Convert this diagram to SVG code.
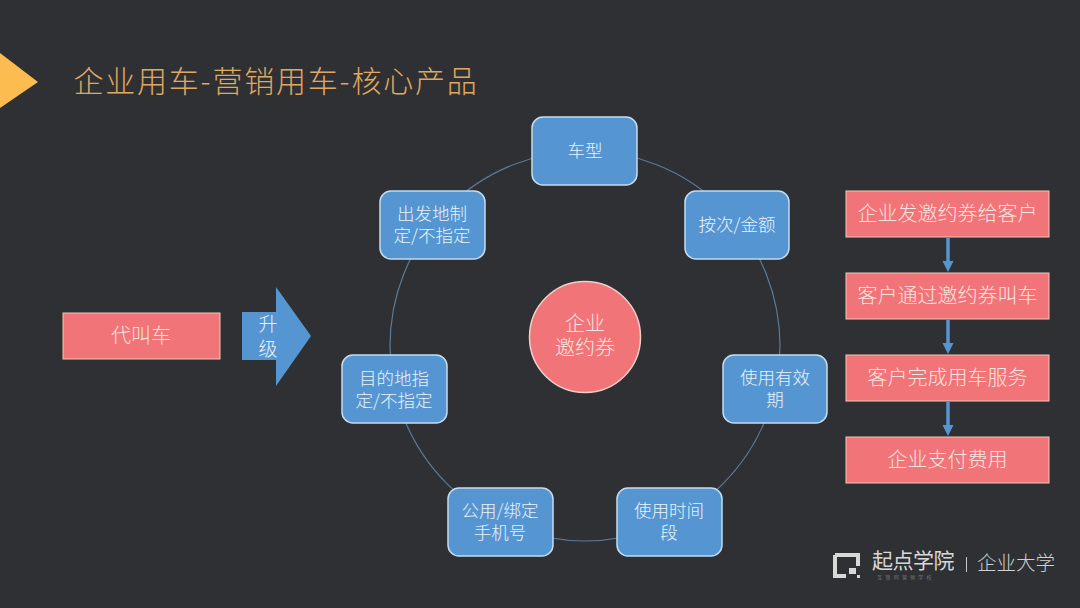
<svg xmlns="http://www.w3.org/2000/svg" width="1080" height="608" viewBox="0 0 1080 608">
<style>
text{font-family:"Noto Sans CJK SC","Noto Sans",sans-serif;text-anchor:middle;font-weight:300}
.b rect{fill:#5596d2;stroke:#c4dcf0;stroke-width:1.5}
.b text{fill:#eaf3fa;font-size:17.500px}
.r rect{fill:#f07478;stroke:#f0c8bc;stroke-width:1}
.r text{fill:#fbe4e0;font-size:20px}
.c line{stroke:#5596d2;stroke-width:3.5}
.c path{fill:#5596d2}
</style>
<rect width="1080" height="608" fill="#2f3033"/>
<polygon id="title-mark" points="0,53 38,82 0,108" fill="#fcbc50"/>
<text id="title" x="276" y="92" style="font-size:30px;fill:#e0a860;letter-spacing:1.800px">企业用车-营销用车-核心产品</text>
<g id="connectors" class="c">
<circle cx="585" cy="346" r="195" fill="none" stroke="#5c7a98" stroke-width="1.2"/>
<line x1="948" y1="238" x2="948" y2="262"/><path d="M942.500 261H953.500L948 272Z"/>
<line x1="948" y1="320" x2="948" y2="344"/><path d="M942.500 343H953.500L948 354Z"/>
<line x1="948" y1="402" x2="948" y2="426"/><path d="M942.500 425H953.500L948 436Z"/>
</g>
<g id="n-car" class="b"><rect x="532" y="117" width="105" height="68" rx="11"/><text x="585" y="157">车型</text></g>
<g id="n-count" class="b"><rect x="685" y="191" width="104" height="68" rx="11"/><text x="737" y="231">按次/金额</text></g>
<g id="n-valid" class="b"><rect x="723" y="355" width="104" height="68" rx="11"/><text x="775" y="384">使用有效</text><text x="775" y="406">期</text></g>
<g id="n-time" class="b"><rect x="617" y="488" width="105" height="68" rx="11"/><text x="669" y="517">使用时间</text><text x="669" y="539">段</text></g>
<g id="n-phone" class="b"><rect x="448" y="488" width="105" height="68" rx="11"/><text x="500" y="517">公用/绑定</text><text x="500" y="539">手机号</text></g>
<g id="n-dest" class="b"><rect x="342" y="355" width="105" height="68" rx="11"/><text x="394" y="385">目的地指</text><text x="394" y="407">定/不指定</text></g>
<g id="n-origin" class="b"><rect x="380" y="191" width="105" height="68" rx="11"/><text x="432" y="220">出发地制</text><text x="432" y="242">定/不指定</text></g>
<g id="n-center"><circle cx="585" cy="337" r="55.500" fill="#f07478" stroke="#f0d0c8" stroke-width="1.5"/><text x="585" y="331" style="font-size:20px;fill:#fbe4e0">企业</text><text x="585" y="355" style="font-size:20px;fill:#fbe4e0">邀约券</text></g>
<g id="n-daijiao" class="r"><rect x="63" y="313" width="157" height="46"/><text x="141" y="343">代叫车</text></g>
<g id="n-upgrade"><polygon points="242,312 276,312 276,287 311,336 276,386 276,360 242,360" fill="#5596d2"/><text x="268" y="331" style="font-size:19px;fill:#eaf3fa">升</text><text x="268" y="356" style="font-size:19px;fill:#eaf3fa">级</text></g>
<g id="s1" class="r"><rect x="846" y="191" width="203" height="46"/><text x="947.500" y="221">企业发邀约券给客户</text></g>
<g id="s2" class="r"><rect x="846" y="273" width="203" height="46"/><text x="947.500" y="303">客户通过邀约券叫车</text></g>
<g id="s3" class="r"><rect x="846" y="355" width="203" height="46"/><text x="947.500" y="385">客户完成用车服务</text></g>
<g id="s4" class="r"><rect x="846" y="437" width="203" height="46"/><text x="947.500" y="467">企业支付费用</text></g>
<g id="logo">
<path d="M835 555H858V566M846 576H835V555" fill="none" stroke="#d8d8d8" stroke-width="4"/>
<rect x="849" y="568" width="7" height="6" fill="#d8d8d8"/><rect x="857" y="575" width="3" height="3" fill="#d8d8d8"/>
<text x="913" y="568" style="font-size:21px;fill:#d8d8d8;font-weight:400;letter-spacing:-.5px">起点学院</text>
<text x="906" y="579" style="font-size:5px;fill:#909090;letter-spacing:3.200px">互联网营销学校</text>
<rect x="966" y="557" width="1" height="15" fill="#c8c8c8"/>
<text x="1016" y="570" style="font-size:19.500px;fill:#d0d0d0">企业大学</text>
</g>
</svg>
